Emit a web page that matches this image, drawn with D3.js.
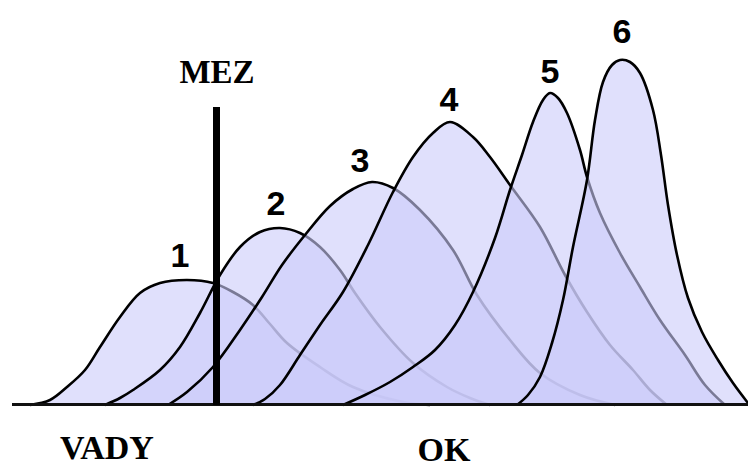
<!DOCTYPE html>
<html>
<head>
<meta charset="utf-8">
<script src="https://cdn.jsdelivr.net/npm/d3@7"></script>
<style>
  html, body { margin: 0; padding: 0; background: #ffffff; }
  svg { display: block; }
</style>
</head>
<body>
<svg id="chart" width="748" height="466"></svg>
<script>
// ---- data (x position along the quality axis, h = frequency height) ----
const curve1 = [[18,0],[38,5],[55,18],[73,35],[88,58],[108,88],[128,112],[148,122],[175,125],[201,122],[221,113],[241,100],[258,81],[275,62],[308,38],[341,18],[391,3],[418,0]];
const curve2 = [[93,0],[108,7],[121,15],[148,35],[168,58],[188,92],[208,130],[228,158],[248,173],[268,177],[288,172],[308,158],[328,135],[343,112],[368,78],[401,42],[435,18],[458,7],[478,0]];
const curve3 = [[156,0],[175,13],[201,38],[228,75],[250,108],[270,140],[293,170],[318,199],[341,216],[360,223],[381,217],[408,195],[441,155],[465,110],[498,65],[528,32],[568,10],[603,0]];
const curve4 = [[241,0],[253,6],[268,20],[288,50],[308,80],[331,113],[356,160],[381,213],[401,248],[421,272],[438,283],[461,268],[478,248],[498,220],[528,178],[553,130],[575,93],[598,60],[621,35],[638,15],[655,0]];
const curve5 = [[331,0],[353,10],[378,23],[401,38],[423,55],[443,80],[461,113],[483,167],[498,215],[510,250],[521,283],[531,305],[538,312],[546,307],[555,292],[568,255],[575,228],[588,192],[608,152],[628,118],[648,85],[673,50],[693,20],[713,0]];
const curve6 = [[505,0],[516,10],[528,28],[540,62],[551,105],[561,158],[575,225],[583,285],[591,323],[600,340],[608,345],[618,343],[628,332],[641,295],[649,250],[656,200],[665,150],[676,107],[690,73],[706,45],[721,22],[736,2]];
const curves = [curve1, curve2, curve3, curve4, curve5, curve6];
const curveLabels = ["1", "2", "3", "4", "5", "6"];
const labelX = [168, 264, 348, 437, 538, 610];
const labelH = [138, 190, 233, 294, 322, 362];
const thresholdX = 204.5;      // "MEZ" limit
const thresholdTop = 298;
const thresholdLabel = "MEZ";
const zoneLabels = ["VADY", "OK"];
const zoneX = [95, 432];

// ---- scales ----
const svg = d3.select("#chart");
const x = d3.scaleLinear().domain([0, 736]).range([12, 748]);
const y = d3.scaleLinear().domain([0, 360]).range([405, 45]);

const area = d3.area()
  .x(d => x(d[0])).y0(y(0)).y1(d => y(d[1]))
  .curve(d3.curveCatmullRom.alpha(0.5));
const line = d3.line()
  .x(d => x(d[0])).y(d => y(d[1]))
  .curve(d3.curveCatmullRom.alpha(0.5));

const g = svg.append("g");
curves.forEach(c => {
  g.append("path").attr("d", area(c))
    .attr("fill", "rgb(203,203,250)").attr("fill-opacity", 0.6).attr("stroke", "none");
  g.append("path").attr("d", line(c))
    .attr("fill", "none").attr("stroke", "#000").attr("stroke-width", 2.6)
    .attr("stroke-linejoin", "round");
});

// baseline
svg.append("line")
  .attr("x1", x(0)).attr("x2", x(736))
  .attr("y1", y(0) - 0.5).attr("y2", y(0) - 0.5)
  .attr("stroke", "#111").attr("stroke-width", 3);

// threshold line
svg.append("line")
  .attr("x1", x(thresholdX)).attr("x2", x(thresholdX))
  .attr("y1", y(thresholdTop)).attr("y2", y(0))
  .attr("stroke", "#000").attr("stroke-width", 7);

svg.append("text")
  .attr("x", x(thresholdX) + 0.5).attr("y", 83)
  .attr("text-anchor", "middle")
  .attr("font-family", "'Liberation Serif', 'Times New Roman', serif")
  .attr("font-weight", "bold").attr("font-size", 33)
  .text(thresholdLabel);

// curve number labels
curveLabels.forEach((t, i) => {
  svg.append("text")
    .attr("x", x(labelX[i])).attr("y", y(labelH[i]))
    .attr("text-anchor", "middle")
    .attr("font-family", "'Liberation Sans', Arial, sans-serif")
    .attr("font-weight", "bold").attr("font-size", 34)
    .attr("fill", "#000")
    .text(t);
});

// zone labels
zoneLabels.forEach((t, i) => {
  svg.append("text")
    .attr("x", x(zoneX[i])).attr("y", i === 0 ? 459 : 461)
    .attr("text-anchor", "middle")
    .attr("font-family", "'Liberation Serif', 'Times New Roman', serif")
    .attr("font-weight", "bold").attr("font-size", 34)
    .text(t);
});
</script>
</body>
</html>
